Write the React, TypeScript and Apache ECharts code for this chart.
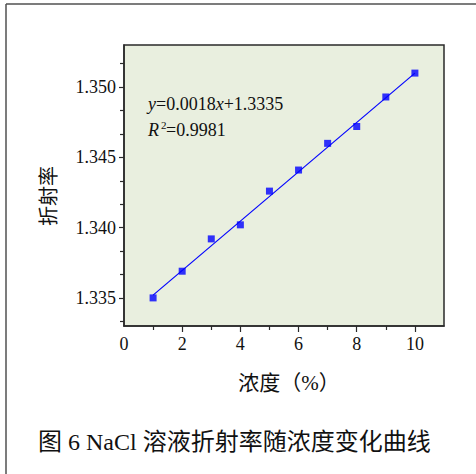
import React, { useEffect, useRef } from "react";
import * as echarts from "echarts";

// Data
const concentration = [1, 2, 3, 4, 5, 6, 7, 8, 9, 10];
const refractiveIndex = [1.335, 1.3369, 1.3392, 1.3402, 1.3426, 1.3441, 1.346, 1.3472, 1.3493, 1.351];
const fitLineX = [1, 10];
const fitLineY = [1.3352, 1.351];
const xLabelValues = [0, 2, 4, 6, 8, 10];
const xMinorTicks = [1, 3, 5, 7, 9];
const yLabelValues = [1.335, 1.34, 1.345, 1.35];
const yMinorTicks = [1.33333, 1.33667, 1.33833, 1.34167, 1.34333, 1.34667, 1.34833, 1.35167];
const equationText = "=0.0018";
const equationText2 = "+1.3335";
const r2Text = "=0.9981";
const xAxisName = "浓度（%）";
const yAxisName = "折射率";
const caption = "图 6 NaCl 溶液折射率随浓度变化曲线";

const SERIF = "'Liberation Serif', 'Times New Roman', serif";
const CJK = "'Liberation Serif', 'Noto Sans CJK SC', serif";

export default function App() {
  const ref = useRef<HTMLDivElement>(null);
  useEffect(() => {
    if (!ref.current) return;
    const chart = echarts.init(ref.current, null, { renderer: "svg" });
    const grid = { left: 124, right: 32, top: 45, bottom: 148 };
    const baseX = {
      type: "value" as const,
      min: 0,
      max: 11,
      interval: 1,
      gridIndex: 0,
      position: "bottom" as const,
      splitLine: { show: false },
    };
    const baseY = {
      type: "value" as const,
      min: 1.333,
      max: 1.353,
      gridIndex: 0,
      position: "left" as const,
      splitLine: { show: false },
    };
    chart.setOption({
      animation: false,
      backgroundColor: "#ffffff",
      textStyle: { fontFamily: SERIF },
      grid: {
        ...grid,
        show: true,
        backgroundColor: "#E9EFDF",
        borderColor: "#2a2a2a",
        borderWidth: 1.5,
      },
      xAxis: [
        {
          ...baseX,
          axisLine: { show: true, lineStyle: { color: "#2a2a2a", width: 1.5 } },
          axisTick: { show: true, customValues: xLabelValues.filter((v) => v > 0), length: 6, lineStyle: { color: "#2a2a2a", width: 1.2 } },
          axisLabel: {
            customValues: xLabelValues,
            margin: 9,
            color: "#111",
            fontFamily: SERIF,
            fontSize: 18,
          },
        },
        {
          ...baseX,
          axisLine: { show: false },
          axisTick: { show: true, customValues: xMinorTicks, length: 4, lineStyle: { color: "#2a2a2a", width: 1.2 } },
          axisLabel: { show: false },
        },
      ],
      yAxis: [
        {
          ...baseY,
          axisLine: { show: true, lineStyle: { color: "#2a2a2a", width: 1.5 } },
          axisTick: { show: true, customValues: yLabelValues, length: 5, lineStyle: { color: "#2a2a2a", width: 1.2 } },
          axisLabel: {
            customValues: yLabelValues,
            margin: 8,
            color: "#111",
            fontFamily: SERIF,
            fontSize: 18,
            formatter: (v: number) => v.toFixed(3),
          },
        },
        {
          ...baseY,
          axisLine: { show: false },
          axisTick: { show: true, customValues: yMinorTicks, length: 4, lineStyle: { color: "#2a2a2a", width: 1.2 } },
          axisLabel: { show: false },
        },
      ],
      series: [
        {
          type: "line",
          xAxisIndex: 0,
          yAxisIndex: 0,
          data: fitLineX.map((x, i) => [x, fitLineY[i]]),
          symbol: "none",
          lineStyle: { color: "#0000FF", width: 1.2 },
          z: 2,
        },
        {
          type: "scatter",
          xAxisIndex: 0,
          yAxisIndex: 0,
          data: concentration.map((x, i) => [x, refractiveIndex[i]]),
          symbol: "rect",
          symbolSize: 7,
          itemStyle: { color: "#0000FF" },
          z: 3,
        },
      ],
      graphic: [
        { type: "line", shape: { x1: 6, y1: 4, x2: 476, y2: 4 }, style: { stroke: "#505050", lineWidth: 1.5 } },
        { type: "line", shape: { x1: 6, y1: 4, x2: 6, y2: 474 }, style: { stroke: "#505050", lineWidth: 1.5 } },
        {
          type: "text",
          x: 148,
          y: 104,
          style: {
            text: "{i|y}{n|" + equationText + "}{i|x}{n|" + equationText2 + "}",
            verticalAlign: "middle",
            rich: {
              i: { fontFamily: SERIF, fontSize: 18, fontStyle: "italic", fill: "#111" },
              n: { fontFamily: SERIF, fontSize: 18, fill: "#111" },
            },
          },
        },
        {
          type: "text",
          x: 148,
          y: 130,
          style: { text: "R", fontFamily: SERIF, fontSize: 18, fontStyle: "italic", fill: "#111", verticalAlign: "middle" },
        },
        {
          type: "text",
          x: 161,
          y: 125,
          style: { text: "2", fontFamily: SERIF, fontSize: 11, fill: "#111", verticalAlign: "middle" },
        },
        {
          type: "text",
          x: 166,
          y: 130,
          style: { text: r2Text, fontFamily: SERIF, fontSize: 18, fill: "#111", verticalAlign: "middle" },
        },
        {
          type: "text",
          x: 49,
          y: 196,
          rotation: Math.PI / 2,
          style: { text: yAxisName, fontFamily: CJK, fontSize: 20, fill: "#111", align: "center", verticalAlign: "middle" },
        },
        {
          type: "text",
          x: 289,
          y: 383,
          style: { text: xAxisName, fontFamily: CJK, fontSize: 21, fill: "#111", align: "center", verticalAlign: "middle" },
        },
        {
          type: "text",
          x: 38,
          y: 442,
          style: { text: caption, fontFamily: CJK, fontSize: 24, fill: "#111", align: "left", verticalAlign: "middle" },
        },
      ],
    });
    return () => chart.dispose();
  }, []);
  return (
    <div
      ref={ref}
      style={{ position: "fixed", left: 0, top: 0, width: 476, height: 474, background: "#fff" }}
    />
  );
}
